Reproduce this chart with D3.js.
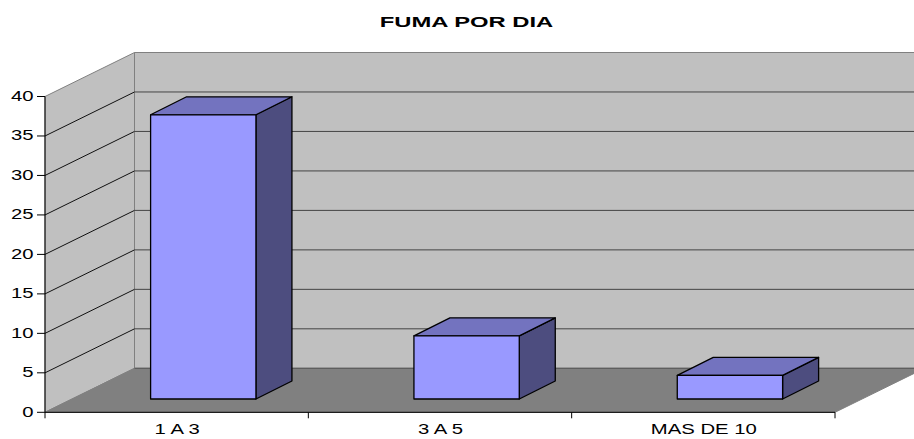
<!DOCTYPE html>
<html><head><meta charset="utf-8">
<style>html,body{margin:0;padding:0;background:#fff;overflow:hidden}svg{display:block}text{font-family:"Liberation Sans",Arial,sans-serif;fill:#000}</style>
<script src="https://cdn.jsdelivr.net/npm/d3@7"></script></head><body>
<svg id="c" width="914" height="439"></svg>
<script>
const title = "FUMA POR DIA";
const categories = ["1 A 3", "3 A 5", "MAS DE 10"];
const values = [36, 8, 3];
const yTicks = [0, 5, 10, 15, 20, 25, 30, 35, 40];

const svg = d3.select("#c");
const x0 = 45, x1 = 835, y0 = 412.3, y1 = 96.5;
const depth = {dx: 89.5, dy: -44};
const barDepth = {dx: 36, dy: -18};
const barShift = {dx: 26.6, dy: -13.3};

const y = d3.scaleLinear().domain([0, 40]).range([y0, y1]);
const x = d3.scaleBand().domain(categories).range([x0, x1]).paddingInner(0.6).paddingOuter(0.3);
const pts = a => a.map(p => p.join(",")).join(" ");
const wallStroke = "#808080";

// back wall
svg.append("polygon").attr("points", pts([[x0+depth.dx,y1+depth.dy],[x1+depth.dx,y1+depth.dy],[x1+depth.dx,y0+depth.dy],[x0+depth.dx,y0+depth.dy]]))
  .attr("fill","#c0c0c0").attr("stroke",wallStroke).attr("stroke-width",1);
// side wall
svg.append("polygon").attr("points", pts([[x0,y1],[x0+depth.dx,y1+depth.dy],[x0+depth.dx,y0+depth.dy],[x0,y0]]))
  .attr("fill","#c0c0c0").attr("stroke",wallStroke).attr("stroke-width",1);
// floor
svg.append("polygon").attr("points", pts([[x0,y0],[x0+depth.dx,y0+depth.dy],[x1+depth.dx,y0+depth.dy],[x1,y0]]))
  .attr("fill","#808080").attr("stroke",wallStroke).attr("stroke-width",1);
svg.append("line").attr("x1",x0+depth.dx).attr("x2",x1+depth.dx).attr("y1",y0+depth.dy).attr("y2",y0+depth.dy).attr("stroke","#555").attr("stroke-width",1);

// gridlines
const grid = svg.append("g");
yTicks.filter(t => t > 0 && t < 40).forEach(t => {
  grid.append("line").attr("x1",x0).attr("y1",y(t)).attr("x2",x0+depth.dx).attr("y2",y(t)+depth.dy).attr("stroke","#111").attr("stroke-width",1);
  grid.append("line").attr("x1",x0+depth.dx).attr("y1",y(t)+depth.dy).attr("x2",x1+depth.dx).attr("y2",y(t)+depth.dy).attr("stroke","#444").attr("stroke-width",1);
});

// bars
const bars = svg.append("g").attr("stroke","#000").attr("stroke-width",1.3).attr("stroke-linejoin","round");
categories.forEach((c, i) => {
  const l = x(c) + barShift.dx, r = l + x.bandwidth();
  const t = y(values[i]) + barShift.dy, b = y(0) + barShift.dy;
  const g = bars.append("g");
  g.append("polygon").attr("points", pts([[r,t],[r+barDepth.dx,t+barDepth.dy],[r+barDepth.dx,b+barDepth.dy],[r,b]])).attr("fill","#4d4d7f");
  g.append("polygon").attr("points", pts([[l,t],[l+barDepth.dx,t+barDepth.dy],[r+barDepth.dx,t+barDepth.dy],[r,t]])).attr("fill","#7373bf");
  g.append("rect").attr("x",l).attr("y",t).attr("width",r-l).attr("height",b-t).attr("fill","#9999ff");
});

// horizontally stretched text, as in the reference
const stretched = (parent, str, px, py, anchor, sx, size, weight) =>
  parent.append("text").attr("transform",`translate(${px},${py}) scale(${sx},1)`)
    .attr("text-anchor",anchor).attr("font-size",size).attr("font-weight",weight||"normal").text(str);

// axes
const axisX = d3.scaleLinear().domain([0, categories.length]).range([x0, x1]);
const yAxis = svg.append("g");
yAxis.append("line").attr("x1",x0).attr("x2",x0).attr("y1",y1).attr("y2",y0).attr("stroke","#000").attr("stroke-width",1);
yTicks.forEach(t => {
  yAxis.append("line").attr("x1",x0-8).attr("x2",x0).attr("y1",y(t)).attr("y2",y(t)).attr("stroke","#000").attr("stroke-width",1);
  stretched(yAxis, t, 33.5, y(t)+4.5, "end", 1.45, 14);
});
const xAxis = svg.append("g");
xAxis.append("line").attr("x1",x0).attr("x2",x1).attr("y1",y0).attr("y2",y0).attr("stroke","#000").attr("stroke-width",1);
d3.range(categories.length+1).forEach(i => {
  xAxis.append("line").attr("x1",axisX(i)).attr("x2",axisX(i)).attr("y1",y0).attr("y2",y0+6).attr("stroke","#000").attr("stroke-width",1);
});
categories.forEach((c,i) => {
  stretched(xAxis, c, axisX(i+0.5)+0.5, 434, "middle", 1.45, 14);
});
stretched(svg, title, 466.5, 27, "middle", 1.7, 14, "bold");
</script></body></html>
